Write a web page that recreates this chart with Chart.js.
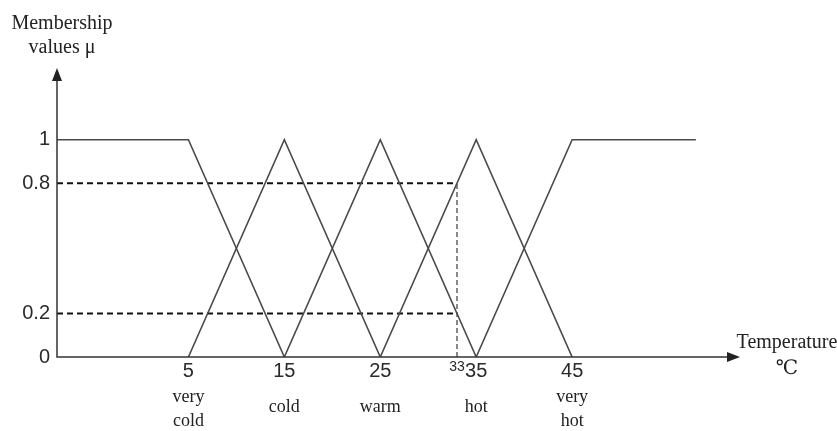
<!DOCTYPE html>
<html><head><meta charset="utf-8">
<script src="https://cdn.jsdelivr.net/npm/chart.js@4/dist/chart.umd.min.js"></script>
<style>html,body{margin:0;padding:0;background:#fff}#wrap{width:837px;height:431px}</style>
</head><body><div id="wrap"><canvas id="c"></canvas></div>
<script>
// ---- data ----
const xAxisMin = -8.7, xAxisMax = 62.5, yAxisMax = 1.33;
const categories = [["very","cold"],["cold"],["warm"],["hot"],["very","hot"]];
const categoryCenters = [5, 15, 25, 35, 45];
const xTickValues = [5, 15, 25, 33, 35, 45];
const yTickValues = [0, 0.2, 0.8, 1];
const veryColdX = [-8.7, 5, 15];  const veryColdY = [1, 1, 0];
const coldX = [5, 15, 25];        const coldY = [0, 1, 0];
const warmX = [15, 25, 35];       const warmY = [0, 1, 0];
const hotX = [25, 35, 45];        const hotY = [0, 1, 0];
const veryHotX = [35, 45, 57.9];  const veryHotY = [0, 1, 1];
const cut08X = [-8.7, 33];        const cut08Y = [0.8, 0.8];
const cut02X = [-8.7, 33];        const cut02Y = [0.2, 0.2];
const cut33X = [33, 33];          const cut33Y = [0, 0.8];

const pts = (xs, ys) => xs.map((x, i) => ({x, y: ys[i]}));
const solid = (xs, ys) => ({data: pts(xs, ys), showLine: true, pointRadius: 0, borderColor: '#4a4a4a', borderWidth: 1.6, fill: false, tension: 0});
const dashed = (xs, ys, w, d) => ({data: pts(xs, ys), showLine: true, pointRadius: 0, borderColor: '#111', borderWidth: w, borderDash: d, fill: false});

const SERIF = '"Liberation Serif", "DejaVu Serif", serif';
const NUM = '"Liberation Sans", "DejaVu Sans", sans-serif';

const decor = {
  id: 'decor',
  afterDraw(chart) {
    const {ctx, chartArea: a, scales} = chart;
    ctx.save();
    ctx.strokeStyle = '#333'; ctx.fillStyle = '#222'; ctx.lineWidth = 1.5;
    // axes
    ctx.beginPath();
    ctx.moveTo(a.left, a.top + 10); ctx.lineTo(a.left, a.bottom); ctx.lineTo(a.right - 10, a.bottom);
    ctx.stroke();
    // arrows
    ctx.beginPath();
    ctx.moveTo(a.right, a.bottom); ctx.lineTo(a.right - 13, a.bottom - 5); ctx.lineTo(a.right - 13, a.bottom + 5); ctx.closePath(); ctx.fill();
    ctx.beginPath();
    ctx.moveTo(a.left, a.top); ctx.lineTo(a.left - 5, a.top + 13); ctx.lineTo(a.left + 5, a.top + 13); ctx.closePath(); ctx.fill();
    // category labels
    ctx.fillStyle = '#222';
    ctx.font = '18px ' + SERIF;
    ctx.textAlign = 'center'; ctx.textBaseline = 'middle';
    categories.forEach((lines, i) => {
      const px = scales.x.getPixelForValue(categoryCenters[i]);
      if (lines.length === 1) ctx.fillText(lines[0], px, 407);
      else { ctx.fillText(lines[0], px, 397); ctx.fillText(lines[1], px, 421); }
    });
    // axis titles
    ctx.font = '20px ' + SERIF;
    ctx.fillText('Membership', 62, 24);
    ctx.fillText('values \u03BC', 62, 48);
    ctx.fillText('Temperature', 787, 343);
    ctx.fillText('\u2103', 787, 369);
    ctx.restore();
  }
};

new Chart(document.getElementById('c'), {
  type: 'scatter',
  data: {datasets: [
    solid(veryColdX, veryColdY), solid(coldX, coldY), solid(warmX, warmY), solid(hotX, hotY), solid(veryHotX, veryHotY),
    dashed(cut08X, cut08Y, 2, [6, 4]), dashed(cut02X, cut02Y, 2, [6, 4]), dashed(cut33X, cut33Y, 1, [5, 3])
  ]},
  options: {
    responsive: true, maintainAspectRatio: false, animation: false,
    layout: {padding: {left: 0, right: 97, top: 68, bottom: 0}},
    plugins: {legend: {display: false}, tooltip: {enabled: false}},
    scales: {
      x: {
        type: 'linear', min: xAxisMin, max: xAxisMax,
        grid: {display: false, drawTicks: false}, border: {display: false},
        afterBuildTicks: s => { s.ticks = xTickValues.map(v => ({value: v})); },
        afterFit: s => { s.height = 74; },
        ticks: {
          autoSkip: false, maxRotation: 0, padding: 2, color: '#2a2a2a',
          font: c => ({family: NUM, size: c.tick && c.tick.value === 33 ? 14 : 20}),
          callback: v => String(v)
        }
      },
      y: {
        type: 'linear', min: 0, max: yAxisMax,
        grid: {display: false, drawTicks: false}, border: {display: false},
        afterBuildTicks: s => { s.ticks = yTickValues.map(v => ({value: v})); },
        afterFit: s => { s.width = 57; },
        ticks: {padding: 7, color: '#2a2a2a', font: {family: NUM, size: 20}, callback: v => String(v)}
      }
    }
  },
  plugins: [decor]
});
</script></body></html>
